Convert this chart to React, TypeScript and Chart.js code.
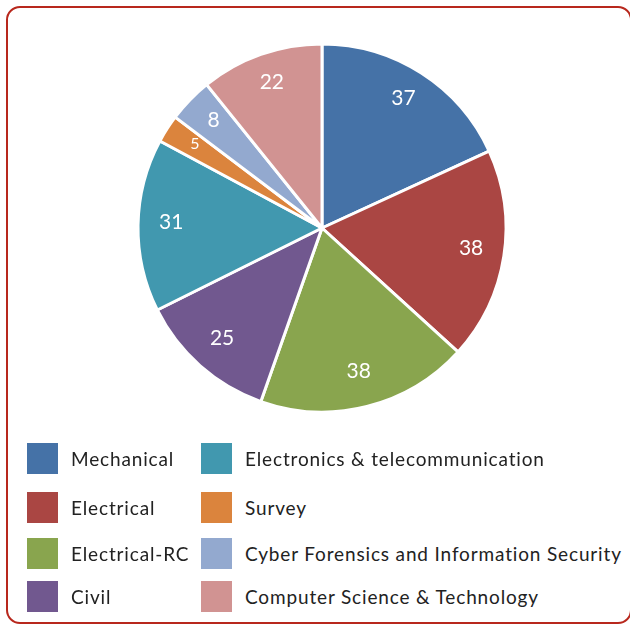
import React, { useEffect, useRef } from "react";
import { Chart, registerables } from "chart.js";

Chart.register(...registerables);

const categories = [
  "Mechanical",
  "Electrical",
  "Electrical-RC",
  "Civil",
  "Electronics & telecommunication",
  "Survey",
  "Cyber Forensics and Information Security",
  "Computer Science & Technology",
];
const values = [37, 38, 38, 25, 31, 5, 8, 22];
const colors = [
  "#4572a7",
  "#aa4643",
  "#89a54e",
  "#71588f",
  "#4198af",
  "#db843d",
  "#93a9cf",
  "#d19392",
];

const FONT = "Lato, 'Open Sans', sans-serif";

const labelPlugin = {
  id: "sliceLabels",
  afterDatasetsDraw(chart: any) {
    const meta = chart.getDatasetMeta(0);
    const ctx = chart.ctx;
    ctx.save();
    ctx.fillStyle = "#ffffff";
    ctx.textAlign = "center";
    ctx.textBaseline = "middle";
    meta.data.forEach((arc: any, i: number) => {
      const { x, y, startAngle, endAngle, outerRadius } = arc.getProps(
        ["x", "y", "startAngle", "endAngle", "outerRadius"],
        true
      );
      const mid = (startAngle + endAngle) / 2;
      const r = outerRadius * 0.82;
      const v = values[i];
      ctx.font = `${v < 6 ? 16 : 21}px ${FONT}`;
      ctx.fillText(String(v), x + Math.cos(mid) * r, y - 3 + Math.sin(mid) * r);
    });
    ctx.restore();
  },
};

const rowTops = [0, 49, 95, 138];

export default function App() {
  const ref = useRef<HTMLCanvasElement | null>(null);

  useEffect(() => {
    if (!ref.current) return;
    let chart: Chart | null = null;
    let cancelled = false;
    const make = () => {
      if (cancelled || !ref.current) return;
      chart = new Chart(ref.current, {
        type: "pie",
        data: {
          labels: categories,
          datasets: [
            {
              data: values,
              backgroundColor: colors,
              borderColor: "#ffffff",
              borderWidth: 3,
            },
          ],
        },
        options: {
          animation: false,
          responsive: false,
          radius: 184,
          layout: { padding: { left: 14, top: 0, right: 0, bottom: 0 } },
          plugins: {
            legend: { display: false },
            tooltip: { enabled: false },
          },
        },
        plugins: [labelPlugin],
      });
    };
    const fonts: any = (document as any).fonts;
    if (fonts && fonts.load) {
      Promise.all([fonts.load("21px Lato"), fonts.load("16px Lato")])
        .catch(() => null)
        .then(make);
    } else {
      make();
    }
    return () => {
      cancelled = true;
      if (chart) chart.destroy();
    };
  }, []);

  return (
    <div>
      <div
        style={{
          position: "absolute",
          left: 6,
          top: 6,
          width: 626,
          height: 618,
          boxSizing: "border-box",
          border: "2.5px solid #b8281d",
          borderRadius: 14,
        }}
      />
      <canvas
        ref={ref}
        width={630}
        height={456}
        style={{ position: "absolute", left: 0, top: 0, width: 630, height: 456 }}
      />
      {categories.map((c, i) => {
        const col = i < 4 ? 0 : 1;
        const row = i % 4;
        const left = col === 0 ? 27 : 201;
        const top = 443 + rowTops[row];
        return (
          <div
            key={c}
            style={{
              position: "absolute",
              left,
              top,
              height: 31,
              display: "flex",
              alignItems: "center",
              fontFamily: FONT,
              fontSize: 19,
              letterSpacing: 0.85,
              color: "#222222",
              whiteSpace: "nowrap",
            }}
          >
            <span
              style={{
                display: "inline-block",
                width: 31,
                height: 31,
                background: colors[i],
                marginRight: 13,
              }}
            />
            <span>{c}</span>
          </div>
        );
      })}
    </div>
  );
}
